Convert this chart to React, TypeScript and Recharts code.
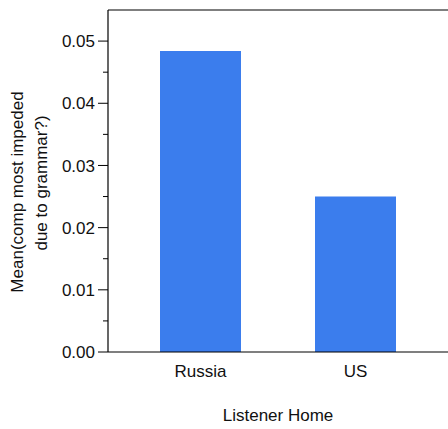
import { Bar, BarChart, Label, ReferenceLine, XAxis, YAxis } from "recharts"

const homes = ["Russia", "US"]
const meanImpeded = [0.0484, 0.025]
const yTicks = [0, 0.005, 0.01, 0.015, 0.02, 0.025, 0.03, 0.035, 0.04, 0.045, 0.05]

const FONT = "'Liberation Sans', Arial, sans-serif"
const BAR = "#3b7ded"

const data = homes.map((home, i) => ({ home, value: meanImpeded[i] }))

function YTick(props: any) {
  const { x, y, payload } = props
  const v = payload.value as number
  const major = Math.round(v * 1000) % 10 === 0
  return (
    <g>
      <line x1={x - (major ? 10 : 5)} x2={x} y1={y} y2={y} stroke="#000" strokeWidth={1} />
      {major && (
        <text
          x={x - 13}
          y={y}
          dy="0.36em"
          textAnchor="end"
          fontSize={17}
          fontFamily={FONT}
          fill="#111"
        >
          {v.toFixed(2)}
        </text>
      )}
    </g>
  )
}

function YTitle(props: any) {
  const { viewBox } = props
  const cy = viewBox.y + viewBox.height / 2
  return (
    <g fontSize={17} fontFamily={FONT} fill="#111" textAnchor="middle">
      <text transform={`translate(23, ${cy + 11}) rotate(-90)`}>Mean(comp most impeded</text>
      <text transform={`translate(47, ${cy + 2}) rotate(-90)`}>due to grammar?)</text>
    </g>
  )
}

function XTitle(props: any) {
  const { viewBox } = props
  return (
    <text
      x={viewBox.x + viewBox.width / 2}
      y={viewBox.y + 68.5}
      textAnchor="middle"
      fontSize={17}
      fontFamily={FONT}
      fill="#111"
    >
      Listener Home
    </text>
  )
}

export default function App() {
  return (
    <div style={{ position: "absolute", left: 0, top: 0, background: "#fff" }}>
      <BarChart
        width={448}
        height={429}
        data={data}
        margin={{ top: 10, right: 0, left: 0, bottom: 0 }}
        barCategoryGap={37}
      >
        <XAxis
          dataKey="home"
          height={77}
          padding={{ left: 15, right: 15 }}
          tickLine={false}
          tickSize={0}
          tickMargin={13}
          axisLine={{ stroke: "#000", strokeWidth: 1.2 }}
          tick={{ fontSize: 17, fontFamily: FONT, fill: "#111" }}
        >
          <Label content={XTitle} />
        </XAxis>
        <YAxis
          width={108}
          domain={[0, 0.055]}
          ticks={yTicks}
          interval={0}
          tickLine={false}
          tickSize={0}
          tickMargin={0}
          axisLine={{ stroke: "#000", strokeWidth: 1.2 }}
          tick={YTick}
        >
          <Label content={YTitle} />
        </YAxis>
        <ReferenceLine y={0.055} stroke="#000" strokeWidth={1.2} />
        <Bar dataKey="value" fill={BAR} isAnimationActive={false} />
      </BarChart>
    </div>
  )
}
